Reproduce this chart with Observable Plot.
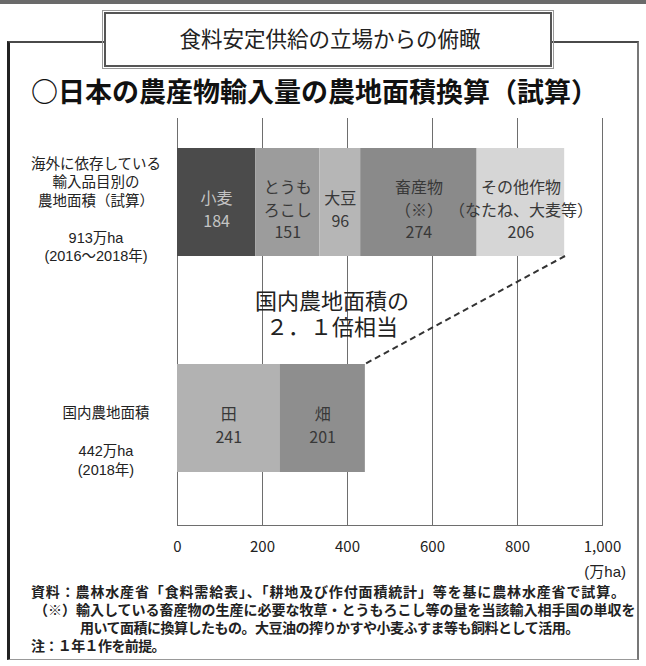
<!DOCTYPE html>
<html><head><meta charset="utf-8">
<script src="https://cdn.jsdelivr.net/npm/d3@7"></script>
<script src="https://cdn.jsdelivr.net/npm/@observablehq/plot@0.6"></script>
<style>
body{margin:0;background:#fff;}
#page{position:relative;width:646px;height:666px;overflow:hidden;background:#fff;font-family:"Liberation Sans","Noto Sans CJK JP",sans-serif;color:#222;}
#chart{position:absolute;left:0;top:0;}
.t{position:absolute;white-space:nowrap;}
.topband{position:absolute;left:0;top:0;width:646px;height:4px;background:#6a6a6a;}
.frame{position:absolute;left:7px;top:41px;width:627px;height:616px;border-top:2px solid #4a4a4a;border-left:3px solid #222;border-right:2px solid #777;border-bottom:1px solid #999;}
.titlebox{position:absolute;left:104px;top:12px;width:444px;height:51px;border:2px solid #555;outline:1px solid #999;outline-offset:1px;background:#fff;}
</style></head><body>
<div id="page">
<div class="topband"></div>
<div class="frame"></div>
<div class="titlebox"></div>
<div id="chart"></div>
</div>
<script>
// ---- data ----
const groups = ["輸入品目別", "国内農地"];
const importCats = ["小麦", "とうもろこし", "大豆", "畜産物", "その他作物"];
const importLabels = ["小麦", "とうも\nろこし", "大豆", "畜産物\n（※）", "その他作物\n（なたね、大麦等）"];
const importValues = [184, 151, 96, 274, 206];
const domesticCats = ["田", "畑"];
const domesticLabels = ["田", "畑"];
const domesticValues = [241, 201];
const xTicks = [0, 200, 400, 600, 800, 1000];
const importTotal = 913;
const domesticTotal = 442;

// ---- styles ----
const catColors = ["#4b4b4b", "#9c9c9c", "#b6b6b6", "#8a8a8a", "#d6d6d6", "#b2b2b2", "#8e8e8e"];

const rows = [
  ...importCats.map((c, i) => ({group: groups[0], cat: c, label: importLabels[i], value: importValues[i]})),
  ...domesticCats.map((c, i) => ({group: groups[1], cat: c, label: domesticLabels[i], value: domesticValues[i]}))
];

const font = '"Noto Sans CJK JP","Noto Sans",sans-serif';

const chart = Plot.plot({
  width: 646, height: 666,
  marginLeft: 177, marginRight: 44, marginTop: 118, marginBottom: 141,
  style: {fontFamily: font, background: "transparent", color: "#222"},
  x: {domain: [0, 1000], label: null},
  y: {domain: groups, range: [148, 473], paddingInner: 0.499, paddingOuter: 0, axis: null},
  color: {domain: [...importCats, ...domesticCats], range: catColors},
  marks: [
    Plot.gridX(xTicks, {stroke: "#6e6e6e", strokeOpacity: 1, strokeWidth: 1}),
    Plot.frame({anchor: "bottom", stroke: "#6e6e6e"}),
    Plot.barX(rows, Plot.stackX({x: "value", y: "group", fill: "cat", order: null})),
    Plot.text(rows, Plot.stackX({
      x: "value", y: "group", order: null,
      text: d => d.label + "\n" + d.value,
      lineHeight: 1.4, fontSize: 16, dy: 6,
      fill: d => d.cat === "小麦" ? "#c4c4c4" : "#383838"
    })),
    Plot.axisX(xTicks, {tickSize: 0, tickPadding: 16, fontSize: 15, fill: "#222", tickFormat: d3.format(","), label: null})
  ]
});
document.getElementById("chart").appendChild(chart);

// dashed connector from end of imported bar (bottom) to end of domestic bar (top)
const sx = chart.scale("x"), sy = chart.scale("y");
const svg = d3.select(chart.tagName === "svg" ? chart : chart.querySelector("svg"));
svg.append("line")
  .attr("x1", sx.apply(importTotal)).attr("y1", sy.apply(groups[0]) + sy.bandwidth)
  .attr("x2", sx.apply(domesticTotal)).attr("y2", sy.apply(groups[1]))
  .attr("stroke", "#333").attr("stroke-width", 2).attr("stroke-dasharray", "6,4");

// ---- text overlays ----
const page = document.getElementById("page");
// block of lines; y = centre of first line; lh = line spacing
function addBlock(lines, x, y, size, lh, opts = {}) {
  const d = document.createElement("div");
  d.className = "t";
  d.style.left = x + "px";
  d.style.top = (y - lh / 2) + "px";
  d.style.fontSize = size + "px";
  d.style.lineHeight = lh + "px";
  d.style.textAlign = opts.anchor === "start" ? "left" : opts.anchor === "end" ? "right" : "center";
  if (opts.weight) d.style.fontWeight = opts.weight;
  if (opts.color) d.style.color = opts.color;
  if (opts.family) d.style.fontFamily = opts.family;
  const ax = opts.anchor === "start" ? "0" : opts.anchor === "end" ? "-100%" : "-50%";
  d.style.transform = `translate(${ax},0)`;
  lines.forEach((ln, i) => {
    const s = document.createElement("div");
    const txt = typeof ln === "string" ? ln : ln.text;
    s.textContent = txt === "" ? "\u00a0" : txt;
    if (ln.indent) s.style.paddingLeft = ln.indent + "px";
    if (ln.spacing) s.style.letterSpacing = ln.spacing + "px";
    d.appendChild(s);
  });
  page.appendChild(d);
}
addBlock(["食料安定供給の立場からの俯瞰"], 330, 40, 21.5, 28);
addBlock(["○日本の農産物輸入量の農地面積換算（試算）"], 31, 91, 27, 36, {weight: 700, anchor: "start", color: "#111", family: font});

addBlock(["海外に依存している", "輸入品目別の", "農地面積（試算）", "", importTotal + "万ha", "(2016～2018年)"], 96, 164, 14.5, 18.5);
addBlock(["国内農地面積", "", domesticTotal + "万ha", "(2018年)"], 106, 413, 14.5, 19);

addBlock(["国内農地面積の", "２．１倍相当"], 332, 302, 22, 26);

addBlock(["(万ha)"], 626, 572, 15, 20, {anchor: "end"});

addBlock([
  {text: "資料：農林水産省「食料需給表」、「耕地及び作付面積統計」等を基に農林水産省で試算。", spacing: 0.85},
  {text: "（※）輸入している畜産物の生産に必要な牧草・とうもろこし等の量を当該輸入相手国の単収を", indent: 3},
  {text: "用いて面積に換算したもの。大豆油の搾りかすや小麦ふすま等も飼料として活用。", indent: 49, spacing: -0.5},
  {text: "注：１年１作を前提。", spacing: -0.6}
], 31, 592, 14, 18, {weight: 700, anchor: "start"});
</script>
</body></html>
